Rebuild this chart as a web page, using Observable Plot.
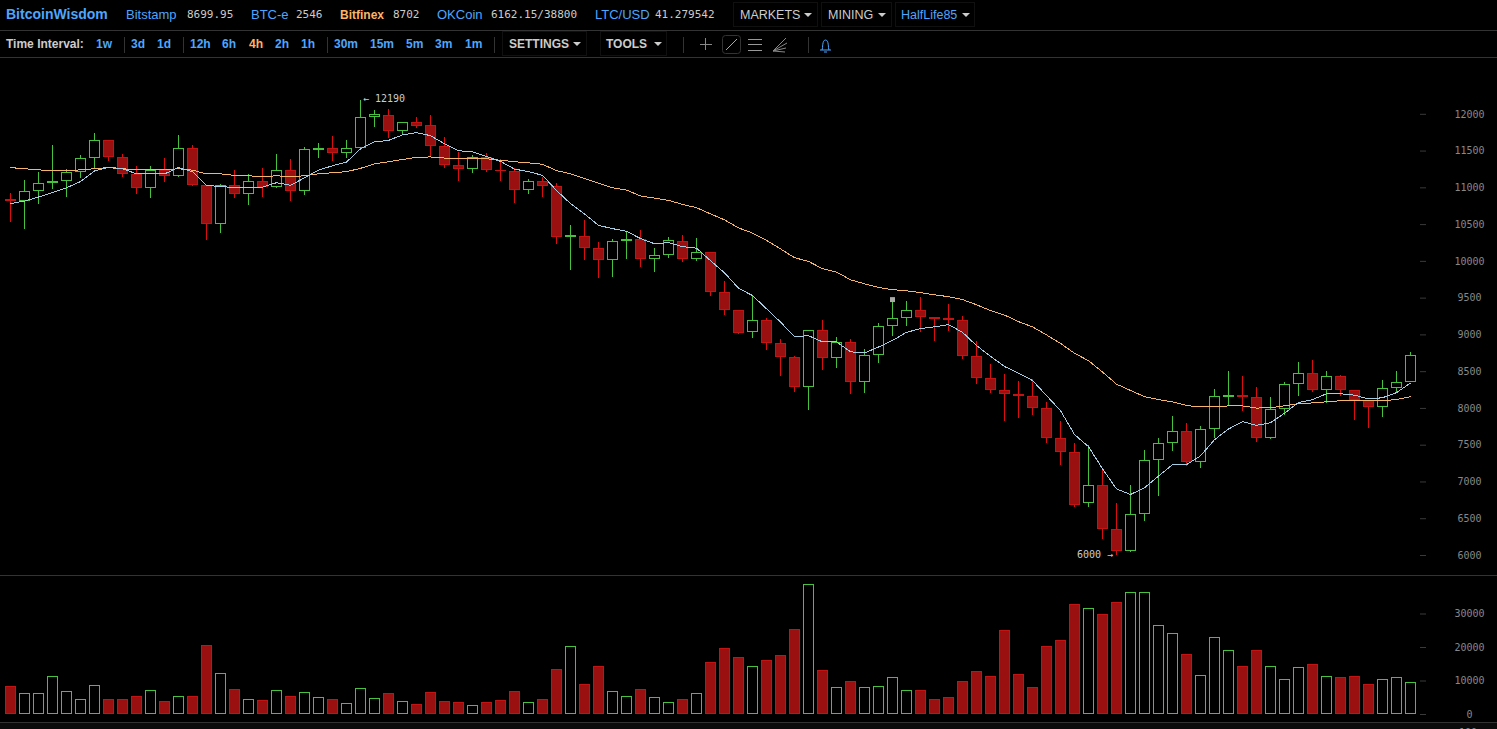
<!DOCTYPE html>
<html><head><meta charset="utf-8">
<script src="https://cdn.jsdelivr.net/npm/d3@7"></script>
<script src="https://cdn.jsdelivr.net/npm/@observablehq/plot@0.6"></script>
<style>
html,body{margin:0;padding:0;background:#000;width:1497px;height:729px;overflow:hidden}
#hdr{position:relative;height:58px;width:1497px;font-family:"Liberation Sans",Arial,sans-serif;background:#000}
#hdr span,#hdr i{position:absolute;white-space:nowrap;font-style:normal}
.r1{top:8px;font-size:13px;line-height:14px;color:#4da6ff}
.r2{top:37px;font-size:12px;line-height:14px;color:#4da6ff;font-weight:bold}
.r1.mono{font-family:"DejaVu Sans Mono",monospace;font-size:11px;color:#ccc}
.org{color:#ffb366!important}.gr{color:#ccc!important}
.ln{position:absolute;left:0;width:1497px;height:1px;background:#333}
.sep{position:absolute;width:1px;height:16px;background:#333;top:37px}
.box{position:absolute;border:1px solid #101010;box-sizing:border-box}
.caret{position:absolute;width:0;height:0;border-left:4px solid transparent;border-right:4px solid transparent;border-top:4px solid currentColor}
svg{display:block}
#strip{position:relative;width:1497px;height:6px;background:#0b0b0b;overflow:hidden;border-top:1px solid #333}
#strip span{position:absolute;left:1459px;top:4px;font:10px "DejaVu Sans Mono",monospace;color:#888}
</style></head><body>
<div id="hdr">
<span class="r1" style="left:6px;top:7px;font-size:14px;font-weight:bold">BitcoinWisdom</span>
<span class="r1" style="left:126px">Bitstamp</span><span class="r1 mono" style="left:187px">8699.95</span>
<span class="r1" style="left:251px">BTC-e</span><span class="r1 mono" style="left:296px">2546</span>
<span class="r1 org" style="left:340px;font-size:12px;font-weight:bold">Bitfinex</span><span class="r1 mono" style="left:393px">8702</span>
<span class="r1" style="left:437px">OKCoin</span><span class="r1 mono" style="left:491px">6162.15/38800</span>
<span class="r1" style="left:595px">LTC/USD</span><span class="r1 mono" style="left:655px">41.279542</span>
<div class="box" style="left:733px;top:2px;width:85px;height:25px"></div>
<div class="box" style="left:821px;top:2px;width:71px;height:25px"></div>
<div class="box" style="left:895px;top:2px;width:80px;height:25px"></div>
<span class="r1 gr" style="left:740px;font-size:12.500px">MARKETS</span><div class="caret" style="left:804px;top:13px;color:#ccc"></div>
<span class="r1 gr" style="left:828px;font-size:12.500px">MINING</span><div class="caret" style="left:878px;top:13px;color:#ccc"></div>
<span class="r1" style="left:901px;font-size:12.500px">HalfLife85</span><div class="caret" style="left:962px;top:13px;color:#ccc"></div>
<div class="ln" style="top:30px"></div><div class="ln" style="top:57px"></div>
<span class="r2 gr" style="left:6px">Time Interval:</span>
<span class="r2" style="left:96px">1w</span><div class="sep" style="left:124px"></div>
<span class="r2" style="left:131px">3d</span><span class="r2" style="left:157px">1d</span><div class="sep" style="left:183px"></div>
<span class="r2" style="left:190px">12h</span><span class="r2" style="left:222px">6h</span><span class="r2 org" style="left:249px">4h</span><span class="r2" style="left:275px">2h</span><span class="r2" style="left:301px">1h</span><div class="sep" style="left:327px"></div>
<span class="r2" style="left:334px">30m</span><span class="r2" style="left:370px">15m</span><span class="r2" style="left:406px">5m</span><span class="r2" style="left:435px">3m</span><span class="r2" style="left:465px">1m</span><div class="sep" style="left:494px"></div>
<div class="box" style="left:502px;top:31px;width:85px;height:25px"></div>
<div class="box" style="left:600px;top:31px;width:67px;height:25px"></div>
<span class="r2 gr" style="left:509px">SETTINGS</span><div class="caret" style="left:573px;top:42px;color:#ccc"></div>
<span class="r2 gr" style="left:606px">TOOLS</span><div class="caret" style="left:654px;top:42px;color:#ccc"></div>
<div class="sep" style="left:683px"></div><div class="sep" style="left:808px"></div>
<svg style="position:absolute;left:695px;top:33px" width="145" height="22" fill="none" stroke-width="1">
<path d="M10.5 5v12M5 11.5h12" stroke="#888"/>
<rect x="27.5" y="2.5" width="18" height="18" rx="3" stroke="#333"/><path d="M31 17l11-11" stroke="#aaa"/>
<path d="M53 6.5h14M53 11.5h14M53 17.5h14" stroke="#999"/>
<path d="M78 18l13-13M78 18l14-8M78 18l13-3M78 18l12 1" stroke="#888"/>
<path d="M125 17h11M127 17c1-2 0-10 3.500-10s2.500 8 3.500 10M129 19h3" stroke="#4da6ff"/>
</svg>
</div>
<div id="price"></div>
<div class="ln" style="top:575px"></div>
<div style="height:1px"></div>
<div id="vol"></div>
<div id="strip"><span>100</span></div>
<script>
const open=[10830,10820,10955,11065,11095,11220,11410,11640,11410,11180,
11000,11230,11165,11530,11030,10510,11030,10920,11080,11015,
11230,10960,11515,11530,11475,11545,11965,11980,11775,11885,
11845,11560,11300,11255,11410,11235,11220,10970,11080,11015,
10330,10335,10170,10020,10275,10295,10035,10090,10265,10035,
10115,9575,9330,9035,9190,8880,8690,8290,9055,8685,
8895,8355,8725,9120,9225,9330,9235,9210,9190,8700,
8405,8240,8185,8160,7995,7585,7395,6715,6950,6350,
6065,6565,7300,7535,7680,7275,7725,8155,8165,8145,
7600,7995,8335,8470,8255,8430,8240,8105,8020,8280,8360];
const close=[10820,10950,11055,11085,11205,11395,11640,11420,11190,10995,
11230,11165,11530,11035,10510,11030,10920,11080,11015,11230,
10960,11520,11525,11475,11530,11955,11985,11775,11885,11845,
11570,11310,11255,11410,11240,11225,10970,11080,11020,10335,
10340,10185,10020,10265,10295,10035,10075,10280,10035,10115,
9585,9335,9025,9190,8885,8695,8290,9055,8690,8895,
8355,8715,9110,9220,9330,9240,9215,9200,8710,8410,
8250,8195,8165,8005,7600,7405,6690,6950,6365,6065,
6555,7290,7520,7680,7275,7710,8160,8165,8155,7600,
7980,8320,8470,8255,8430,8255,8120,8020,8265,8350,8715];
const high=[10920,11100,11205,11575,11245,11435,11740,11640,11450,11290,
11290,11400,11710,11570,11030,11040,11235,11180,11260,11450,
11380,11550,11605,11700,11645,12190,12050,12065,11885,11955,
11985,11685,11475,11435,11465,11380,11260,11110,11135,11055,
10490,10555,10250,10295,10390,10415,10170,10320,10350,10305,
10115,9720,9330,9520,9220,8935,8700,9055,9195,8960,
8935,8800,9150,9480,9455,9505,9235,9410,9245,8905,
8595,8460,8365,8390,8075,7820,7520,7490,7165,6705,
6950,7425,7585,7885,7790,7750,8255,8500,8430,8280,
8145,8350,8620,8650,8500,8445,8240,8105,8375,8500,8755];
const low=[10530,10440,10780,10980,10875,11125,11260,11360,11145,10915,
10860,11075,11145,11020,10290,10385,10860,10765,10875,10995,
10820,10895,11405,11360,11395,11545,11820,11675,11720,11810,
11430,11265,11090,11200,11215,11090,10790,10915,10875,10235,
9880,10015,9770,9785,10030,9920,9855,10045,9990,10000,
9525,9270,9010,8955,8790,8440,8220,7975,8520,8545,
8195,8205,8615,8980,9120,9035,8915,9050,8670,8330,
8205,7825,7865,7910,7525,7230,6655,6655,6220,6000,
6045,6465,6805,7420,7215,7185,7595,8040,7960,7540,
7580,7910,8165,8220,8070,8165,7840,7730,7880,8200,8360];
const emaFast=[10785,10820,10875,10935,11000,11085,11230,11280,11260,11190,
11190,11190,11275,11220,11030,11020,11000,11010,11010,11070,
11035,11135,11240,11300,11350,11530,11625,11645,11720,11750,
11710,11600,11505,11490,11425,11360,11255,11220,11170,10965,
10785,10645,10490,10445,10410,10310,10240,10255,10200,10180,
10010,9845,9635,9535,9355,9175,8975,8990,8905,8905,
8770,8755,8835,8925,9035,9085,9110,9140,9035,8855,
8710,8570,8480,8380,8175,7970,7645,7480,7180,6905,
6830,6920,7080,7235,7235,7355,7575,7720,7820,7770,
7805,7935,8080,8120,8200,8200,8180,8130,8145,8215,8345];
const emaSlow=[11275,11260,11245,11230,11230,11245,11260,11275,11260,11245,
11245,11245,11260,11240,11190,11190,11170,11165,11150,11165,
11150,11165,11190,11205,11220,11265,11325,11355,11385,11415,
11420,11405,11405,11405,11395,11375,11355,11340,11320,11235,
11190,11125,11065,11000,10970,10890,10860,10830,10775,10730,
10645,10565,10455,10385,10285,10170,10050,10000,9900,9855,
9750,9695,9645,9615,9600,9575,9545,9520,9480,9410,
9330,9270,9180,9110,9000,8885,8750,8650,8495,8330,
8245,8160,8120,8090,8040,8020,8020,8035,8035,8005,
8010,8035,8065,8075,8090,8105,8105,8105,8105,8120,8160];
const volume=[8200,6100,6100,11200,6700,4300,8500,4300,4300,5200,
7000,3700,5200,5200,20500,12100,7300,4300,4000,7000,
5200,6400,4900,4300,3100,7600,4600,6100,3700,2800,
6400,3700,3400,2500,3400,4000,6700,3400,4300,13300,
20200,8800,14200,6700,5200,7300,4900,3400,4300,6100,
15400,19600,16900,14200,16000,17500,25300,38800,13000,7900,
9700,7900,8200,10900,7000,7000,4300,4900,9700,12700,
11200,25000,11800,7900,20200,22000,32800,31600,29800,33400,
36400,36400,26500,24100,17800,11500,22900,19000,14200,19000,
14200,10300,13900,14800,11200,10900,11200,8800,10300,10900,9400];
const priceTicks=d3.range(6000,12001,500);
const volumeTicks=[0,10000,20000,30000];
const index=open.map((_,i)=>i);
const rows=index.map(i=>({i,open:open[i],close:close[i],high:high[i],low:low[i],top:Math.max(open[i],close[i]),bot:Math.min(open[i],close[i]),up:close[i]>open[i],fast:emaFast[i],slow:emaSlow[i],vol:volume[i]}));
const up=d=>d.up, down=d=>!d.up;
const RED="#c41313",REDFILL="#9a0f0f",WICKRED="#dc0d0d",GREEN="#46c23e";
const xScale={type:"band",domain:index,range:[3,1417],paddingInner:4/14,paddingOuter:2/14,align:.5,round:false,axis:null};
const style={background:"#000",color:"#888",fontFamily:"DejaVu Sans Mono, monospace",fontSize:"10px"};
const axis=ticks=>Plot.axisY({anchor:"right",ticks,tickSize:6,tickPadding:44,textAnchor:"middle",stroke:"#3a3a3a",fill:"#888",label:null,tickFormat:d3.format("d")});
const crisp={shapeRendering:"crispEdges"};
const price=Plot.plot({width:1497,height:517,marginLeft:0,marginRight:78,marginTop:0,marginBottom:0,style,
 x:xScale,y:{domain:[6000,12000],range:[497,55.8]},
 marks:[
  axis(priceTicks),
  Plot.ruleX(rows.filter(down),{x:"i",y1:"high",y2:"top",stroke:WICKRED,...crisp}),
  Plot.ruleX(rows.filter(down),{x:"i",y1:"bot",y2:"low",stroke:WICKRED,...crisp}),
  Plot.ruleX(rows.filter(up),{x:"i",y1:"high",y2:"top",stroke:GREEN,...crisp}),
  Plot.ruleX(rows.filter(up),{x:"i",y1:"bot",y2:"low",stroke:GREEN,...crisp}),
  Plot.barY(rows.filter(down),{x:"i",y1:"open",y2:"close",fill:REDFILL,stroke:RED,...crisp}),
  Plot.barY(rows.filter(up),{x:"i",y1:"open",y2:"close",fill:"none",stroke:GREEN,...crisp}),
  Plot.lineY(rows,{x:"i",y:"slow",stroke:"#f5b46c",strokeWidth:1,...crisp}),
  Plot.lineY(rows,{x:"i",y:"fast",stroke:"#a4cce2",strokeWidth:1,...crisp}),
  Plot.dot([rows[63]],{x:"i",y:"high",symbol:"square",r:2.8,fill:"#aaa",stroke:"none"}),
  Plot.text([rows[25]],{x:"i",y:"high",text:d=>"← "+d.high,textAnchor:"start",dx:2.5,dy:-2,fill:"#ccc"}),
  Plot.text([rows[79]],{x:"i",y:"low",text:d=>d.low+" →",textAnchor:"end",dx:-3.5,dy:-1,fill:"#ccc"})
 ]});
document.getElementById("price").append(price);
const vol=Plot.plot({width:1497,height:146,marginLeft:0,marginRight:78,marginTop:0,marginBottom:0,style,
 x:xScale,y:{domain:[0,30000],range:[138,37.5]},
 marks:[
  axis(volumeTicks),
  Plot.barY(rows.filter(down),{x:"i",y1:0,y2:"vol",fill:REDFILL,stroke:RED,insetBottom:1,...crisp}),
  Plot.barY(rows.filter(up),{x:"i",y1:0,y2:"vol",fill:"none",stroke:GREEN,insetBottom:1,...crisp})
 ]});
document.getElementById("vol").append(vol);
</script>
</body></html>
